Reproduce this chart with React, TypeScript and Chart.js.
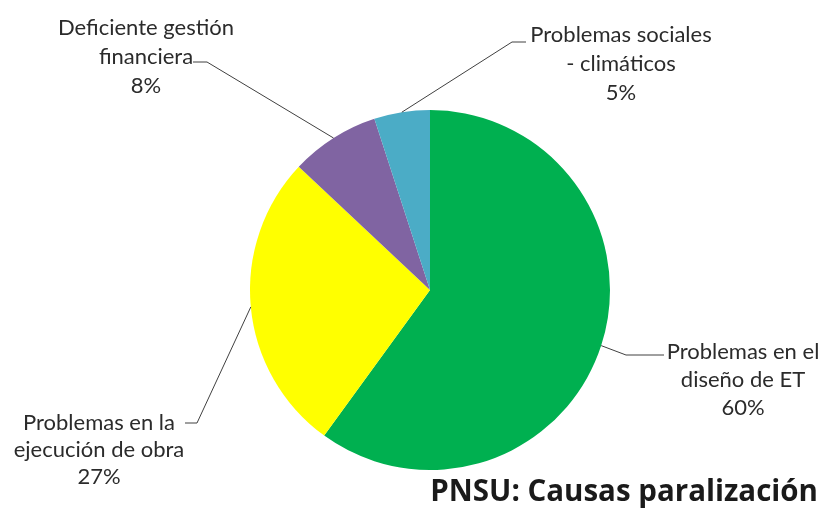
import React, { useEffect, useRef } from "react";
import { Chart, registerables } from "chart.js";

Chart.register(...registerables);

const categories = [
  "Problemas en el diseño de ET",
  "Problemas en la ejecución de obra",
  "Deficiente gestión financiera",
  "Problemas sociales - climáticos",
];
const labelLines = [
  ["Problemas en el", "diseño de ET"],
  ["Problemas en la", "ejecución de obra"],
  ["Deficiente gestión", "financiera"],
  ["Problemas sociales", "- climáticos"],
];
const values = [60, 27, 8, 5];
const percentLabels = ["60%", "27%", "8%", "5%"];
const colors = ["#00B050", "#FFFF00", "#8064A2", "#4BACC6"];
const titleText = "PNSU: Causas paralización";

// Layout of the data labels (leader elbow, underline end, text anchor)
const labelLayout = [
  { elbow: [626, 355], end: [664, 355], textX: 743, textY: 352, gap: 28 },
  { elbow: [197, 423], end: [185, 423], textX: 99, textY: 423, gap: 27 },
  { elbow: [207, 62], end: [193, 62], textX: 146, textY: 28, gap: 29 },
  { elbow: [512, 42], end: [526, 42], textX: 621, textY: 35, gap: 29 },
];

const labelPlugin = {
  id: "pieLabels",
  afterDraw(chart: any) {
    const ctx = chart.ctx;
    const meta = chart.getDatasetMeta(0);
    ctx.save();
    meta.data.forEach((arc: any, i: number) => {
      const p = arc.getProps(["x", "y", "startAngle", "endAngle", "outerRadius"], true);
      const mid = (p.startAngle + p.endAngle) / 2;
      const sx = p.x + Math.cos(mid) * p.outerRadius;
      const sy = p.y + Math.sin(mid) * p.outerRadius;
      const L = labelLayout[i];
      ctx.strokeStyle = "#404040";
      ctx.lineWidth = 1;
      ctx.beginPath();
      ctx.moveTo(sx, sy);
      ctx.lineTo(L.elbow[0], L.elbow[1]);
      ctx.lineTo(L.end[0], L.end[1]);
      ctx.stroke();

      ctx.fillStyle = "#2b2b2b";
      ctx.font = "22px Lato";
      ctx.textAlign = "center";
      ctx.textBaseline = "middle";
      const lines = [...labelLines[i], percentLabels[i]];
      lines.forEach((t, k) => {
        ctx.fillText(t, L.textX, L.textY + k * L.gap);
      });
    });
    ctx.fillStyle = "#1a1a1a";
    ctx.font = "bold 29.5px 'Open Sans'";
    ctx.textAlign = "right";
    ctx.textBaseline = "middle";
    ctx.fillText(titleText, 818, 493);
    ctx.restore();
  },
};

export default function App() {
  const ref = useRef<HTMLCanvasElement>(null);
  useEffect(() => {
    document.body.style.margin = "0";
    const chart = new Chart(ref.current as HTMLCanvasElement, {
      type: "pie",
      data: {
        labels: categories,
        datasets: [
          {
            data: values,
            backgroundColor: colors,
            borderWidth: 0,
          },
        ],
      },
      options: {
        responsive: false,
        animation: false,
        layout: { padding: { top: 110, bottom: 54, left: 250, right: 214 } },
        plugins: {
          legend: { display: false },
          tooltip: { enabled: false },
          title: { display: false },
        },
      },
      plugins: [labelPlugin],
    });
    return () => chart.destroy();
  }, []);
  return (
    <div style={{ width: 824, height: 524, background: "#fff" }}>
      <canvas ref={ref} width={824} height={524} style={{ display: "block" }} />
    </div>
  );
}
